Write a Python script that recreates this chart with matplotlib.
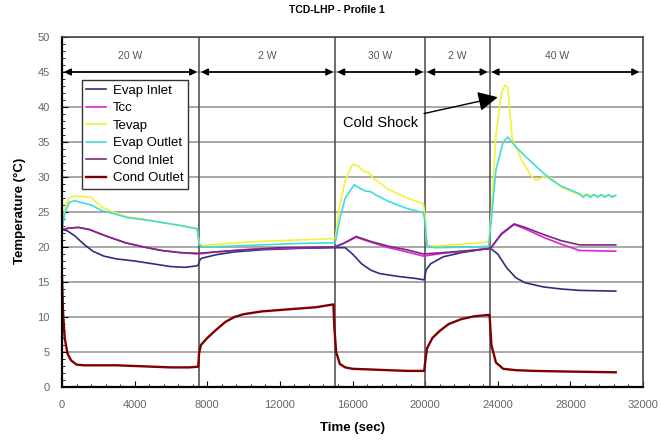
import matplotlib
matplotlib.use('Agg')
import matplotlib.pyplot as plt
from matplotlib.ticker import MultipleLocator

plt.rcParams['font.family'] = ['Liberation Sans', 'DejaVu Sans']

# Температуры по профилю 1 (время в секундах, температура в °C)
evap_inlet_t = [0, 300, 700, 1200, 1700, 2300, 3000, 4000, 5000, 6000, 6800, 7400, 7500,
                7600, 7700, 8500, 9500, 11000, 13000, 15000, 15600, 16000, 16500, 17000,
                17500, 18500, 19500, 19950, 20050, 20300, 21000, 22000, 23000, 23600,
                24000, 24500, 25000, 25500, 26500, 27500, 28500, 30500]
evap_inlet = [22.5, 22.3, 21.6, 20.4, 19.4, 18.7, 18.3, 18.0, 17.6, 17.2, 17.1, 17.3, 17.4,
              18.2, 18.4, 18.9, 19.3, 19.6, 19.8, 19.9, 19.9, 19.0, 17.6, 16.7,
              16.2, 15.8, 15.5, 15.3, 16.7, 17.6, 18.6, 19.2, 19.6, 19.8,
              19.0, 17.0, 15.6, 14.9, 14.3, 14.0, 13.8, 13.7]

tcc_t = [0, 400, 900, 1500, 2500, 3500, 4500, 5500, 6500, 7500, 8500, 10000, 12000, 15000,
         15500, 16200, 17000, 18000, 19000, 19900, 21000, 22500, 23600, 24200, 24900,
         25500, 26500, 27500, 28500, 30500]
tcc = [22.5, 22.7, 22.8, 22.5, 21.5, 20.6, 20.0, 19.5, 19.2, 19.0, 19.3, 19.6, 19.8, 20.0,
       20.5, 21.4, 20.7, 19.9, 19.3, 18.7, 19.1, 19.5, 19.8, 21.8, 23.2,
       22.6, 21.4, 20.4, 19.5, 19.4]
cond_inlet = [22.5, 22.7, 22.8, 22.5, 21.5, 20.6, 20.0, 19.5, 19.2, 19.1, 19.3, 19.6, 19.9, 20.0,
              20.5, 21.5, 20.8, 20.1, 19.6, 19.0, 19.2, 19.5, 19.8, 21.9, 23.3,
              22.8, 21.8, 20.9, 20.3, 20.3]

tevap_t = [0, 150, 400, 700, 1600, 2200, 2800, 3600, 4500, 5500, 6500, 7450, 7550, 7700,
           9000, 11000, 13000, 14950, 15050, 15300, 15600, 16000, 16300, 16600, 16900,
           17100, 18000, 19000, 19900, 20000, 20100, 21000, 22500, 23500, 23650, 23900,
           24200, 24400, 24550, 24800, 25300, 25800, 26100, 26600, 27000, 27500, 28500, 30500]
tevap = [22.5, 25.5, 27.0, 27.3, 27.1, 25.7, 25.0, 24.3, 24.0, 23.5, 23.0, 22.6, 20.6, 20.2,
         20.5, 20.8, 21.0, 21.2, 21.2, 26.0, 29.5, 31.8, 31.6, 30.8, 30.7,
         29.9, 28.2, 27.0, 26.2, 24.5, 20.1, 20.2, 20.5, 20.7, 25.0, 36.0,
         42.0, 43.1, 42.8, 35.5, 32.5, 30.3, 29.5, 30.1, 29.8, 28.5, 27.5, 27.3]

evap_outlet_t = [0, 150, 400, 700, 1600, 2200, 2800, 3600, 4500, 5500, 6500, 7450, 7550, 7700,
                 9000, 11000, 13000, 14950, 15050, 15300, 15600, 16100, 16400, 16700, 17000,
                 17300, 18000, 19000, 19900, 20000, 20100, 20500, 22500, 23500, 23650, 23900,
                 24300, 24550, 25000, 25500, 26000, 26500, 27000, 27500, 28500, 28700, 28900,
                 29100, 29300, 29500, 29700, 29900, 30100, 30300, 30500]
evap_outlet = [22.5, 24.8, 26.4, 26.6, 26.0, 25.2, 24.8, 24.2, 23.9, 23.5, 23.1, 22.6, 20.4, 20.0,
               20.1, 20.3, 20.5, 20.6, 20.6, 24.0, 27.0, 28.9, 28.4, 28.0, 27.9,
               27.4, 26.5, 25.5, 24.9, 23.5, 20.2, 19.9, 20.0, 20.1, 24.0, 31.0,
               35.0, 35.7, 34.3, 33.0, 31.8, 30.6, 29.5, 28.7, 27.6, 27.1, 27.5,
               27.1, 27.5, 27.1, 27.5, 27.1, 27.5, 27.1, 27.4]

cond_outlet_t = [0, 50, 150, 300, 500, 800, 1200, 2000, 3000, 4000, 5000, 6000, 7000, 7500,
                 7550, 7650, 8000, 8500, 9000, 9500, 10000, 11000, 12000, 13000, 14000, 14950,
                 15000, 15100, 15300, 15600, 16000, 17000, 18000, 19000, 19950, 20000, 20100,
                 20400, 20800, 21300, 22000, 22700, 23500, 23550, 23650, 23900, 24300, 25000,
                 26000, 28000, 30500]
cond_outlet = [15.8, 11.0, 7.0, 4.8, 3.8, 3.2, 3.1, 3.1, 3.1, 3.0, 2.9, 2.8, 2.8, 2.9,
               4.8, 6.0, 7.0, 8.2, 9.3, 10.0, 10.4, 10.8, 11.0, 11.2, 11.4, 11.8,
               8.5, 5.0, 3.3, 2.8, 2.6, 2.5, 2.4, 2.3, 2.3, 3.5, 5.5,
               7.0, 8.0, 9.0, 9.7, 10.1, 10.3, 10.3, 6.0, 3.5, 2.6, 2.4,
               2.3, 2.2, 2.1]

# Этапы нагрузки
power_labels = ['20 W', '2 W', '30 W', '2 W', '40 W']
power_edges = [0, 7550, 15050, 20000, 23550, 31000]


def draw_power_steps(ax):
    for x in power_edges[1:-1]:
        ax.axvline(x, color='#555555', lw=1.2, zorder=1)
    for i, label in enumerate(power_labels):
        start = power_edges[i] + 100
        end = power_edges[i + 1] - 100
        if i == len(power_labels) - 1:
            end = 31800
        ax.annotate('', xy=(end, 45), xytext=(start, 45),
                    arrowprops=dict(arrowstyle='<|-|>', color='black', lw=1.2,
                                    mutation_scale=10, shrinkA=0, shrinkB=0))
        ax.text((power_edges[i] + power_edges[i + 1]) / 2, 47.3, label,
                ha='center', va='center', fontsize=7.5, color='#555555')


def show_plot():
    fig = plt.figure(figsize=(6.62, 4.43), dpi=100)
    ax = fig.add_axes([62 / 662, 1 - 387 / 443, 581 / 662, 350 / 443])

    ax.set_xlim(0, 32000)
    ax.set_ylim(0, 50)
    ax.yaxis.set_major_locator(MultipleLocator(5))
    ax.yaxis.set_minor_locator(MultipleLocator(1))
    ax.xaxis.set_major_locator(MultipleLocator(4000))
    ax.xaxis.set_minor_locator(MultipleLocator(800))
    ax.tick_params(which='both', direction='in', labelsize=8, labelcolor='#666666')
    ax.tick_params(which='major', length=4, pad=9)
    ax.tick_params(which='minor', length=2.5)
    ax.grid(axis='y', color='#999999', lw=1.2, zorder=0)
    ax.set_axisbelow(True)

    for side in ['left', 'bottom']:
        ax.spines[side].set_linewidth(1.6)
        ax.spines[side].set_color('black')
    for side in ['top', 'right']:
        ax.spines[side].set_linewidth(1.2)
        ax.spines[side].set_color('#444444')

    draw_power_steps(ax)

    ax.plot(evap_inlet_t, evap_inlet, color='#2e2e80', lw=1.2, label='Evap Inlet')
    ax.plot(tcc_t, tcc, color='#dd22dd', lw=1.2, label='Tcc')
    ax.plot(tevap_t, tevap, color='#f2f23a', lw=1.2, label='Tevap')
    ax.plot(evap_outlet_t, evap_outlet, color='#3fdcdc', lw=1.2, label='Evap Outlet')
    ax.plot(tcc_t, cond_inlet, color='#7a2a7a', lw=1.2, label='Cond Inlet')
    ax.plot(cond_outlet_t, cond_outlet, color='#800000', lw=1.7, label='Cond Outlet')

    ax.legend(loc='upper left', bbox_to_anchor=(0.034, 0.877), fontsize=9.5,
              handlelength=1.5, handletextpad=0.5, labelspacing=0.4,
              borderpad=0.35, fancybox=False, framealpha=1,
              edgecolor='#333333', borderaxespad=0)

    ax.annotate('Cold Shock', xy=(24000, 41.4), xytext=(15500, 37.7),
                fontsize=10.5, va='center', ha='left',
                arrowprops=dict(arrowstyle='-|>,head_length=0.6,head_width=0.3',
                                color='black', lw=1, mutation_scale=20, shrinkB=0))

    fig.text(337 / 662, 1 - 10 / 443, 'TCD-LHP - Profile 1', ha='center', va='center',
             fontsize=7.5, weight='bold')
    fig.text(20 / 662, 1 - 211 / 443, 'Temperature (°C)', ha='center', va='center',
             rotation=90, fontsize=9.5, weight='bold')
    fig.text(353 / 662, 1 - 428 / 443, 'Time (sec)', ha='center', va='center',
             fontsize=9.5, weight='bold')

    plt.savefig('out.png', dpi=100)


if __name__ == "__main__":
    show_plot()
